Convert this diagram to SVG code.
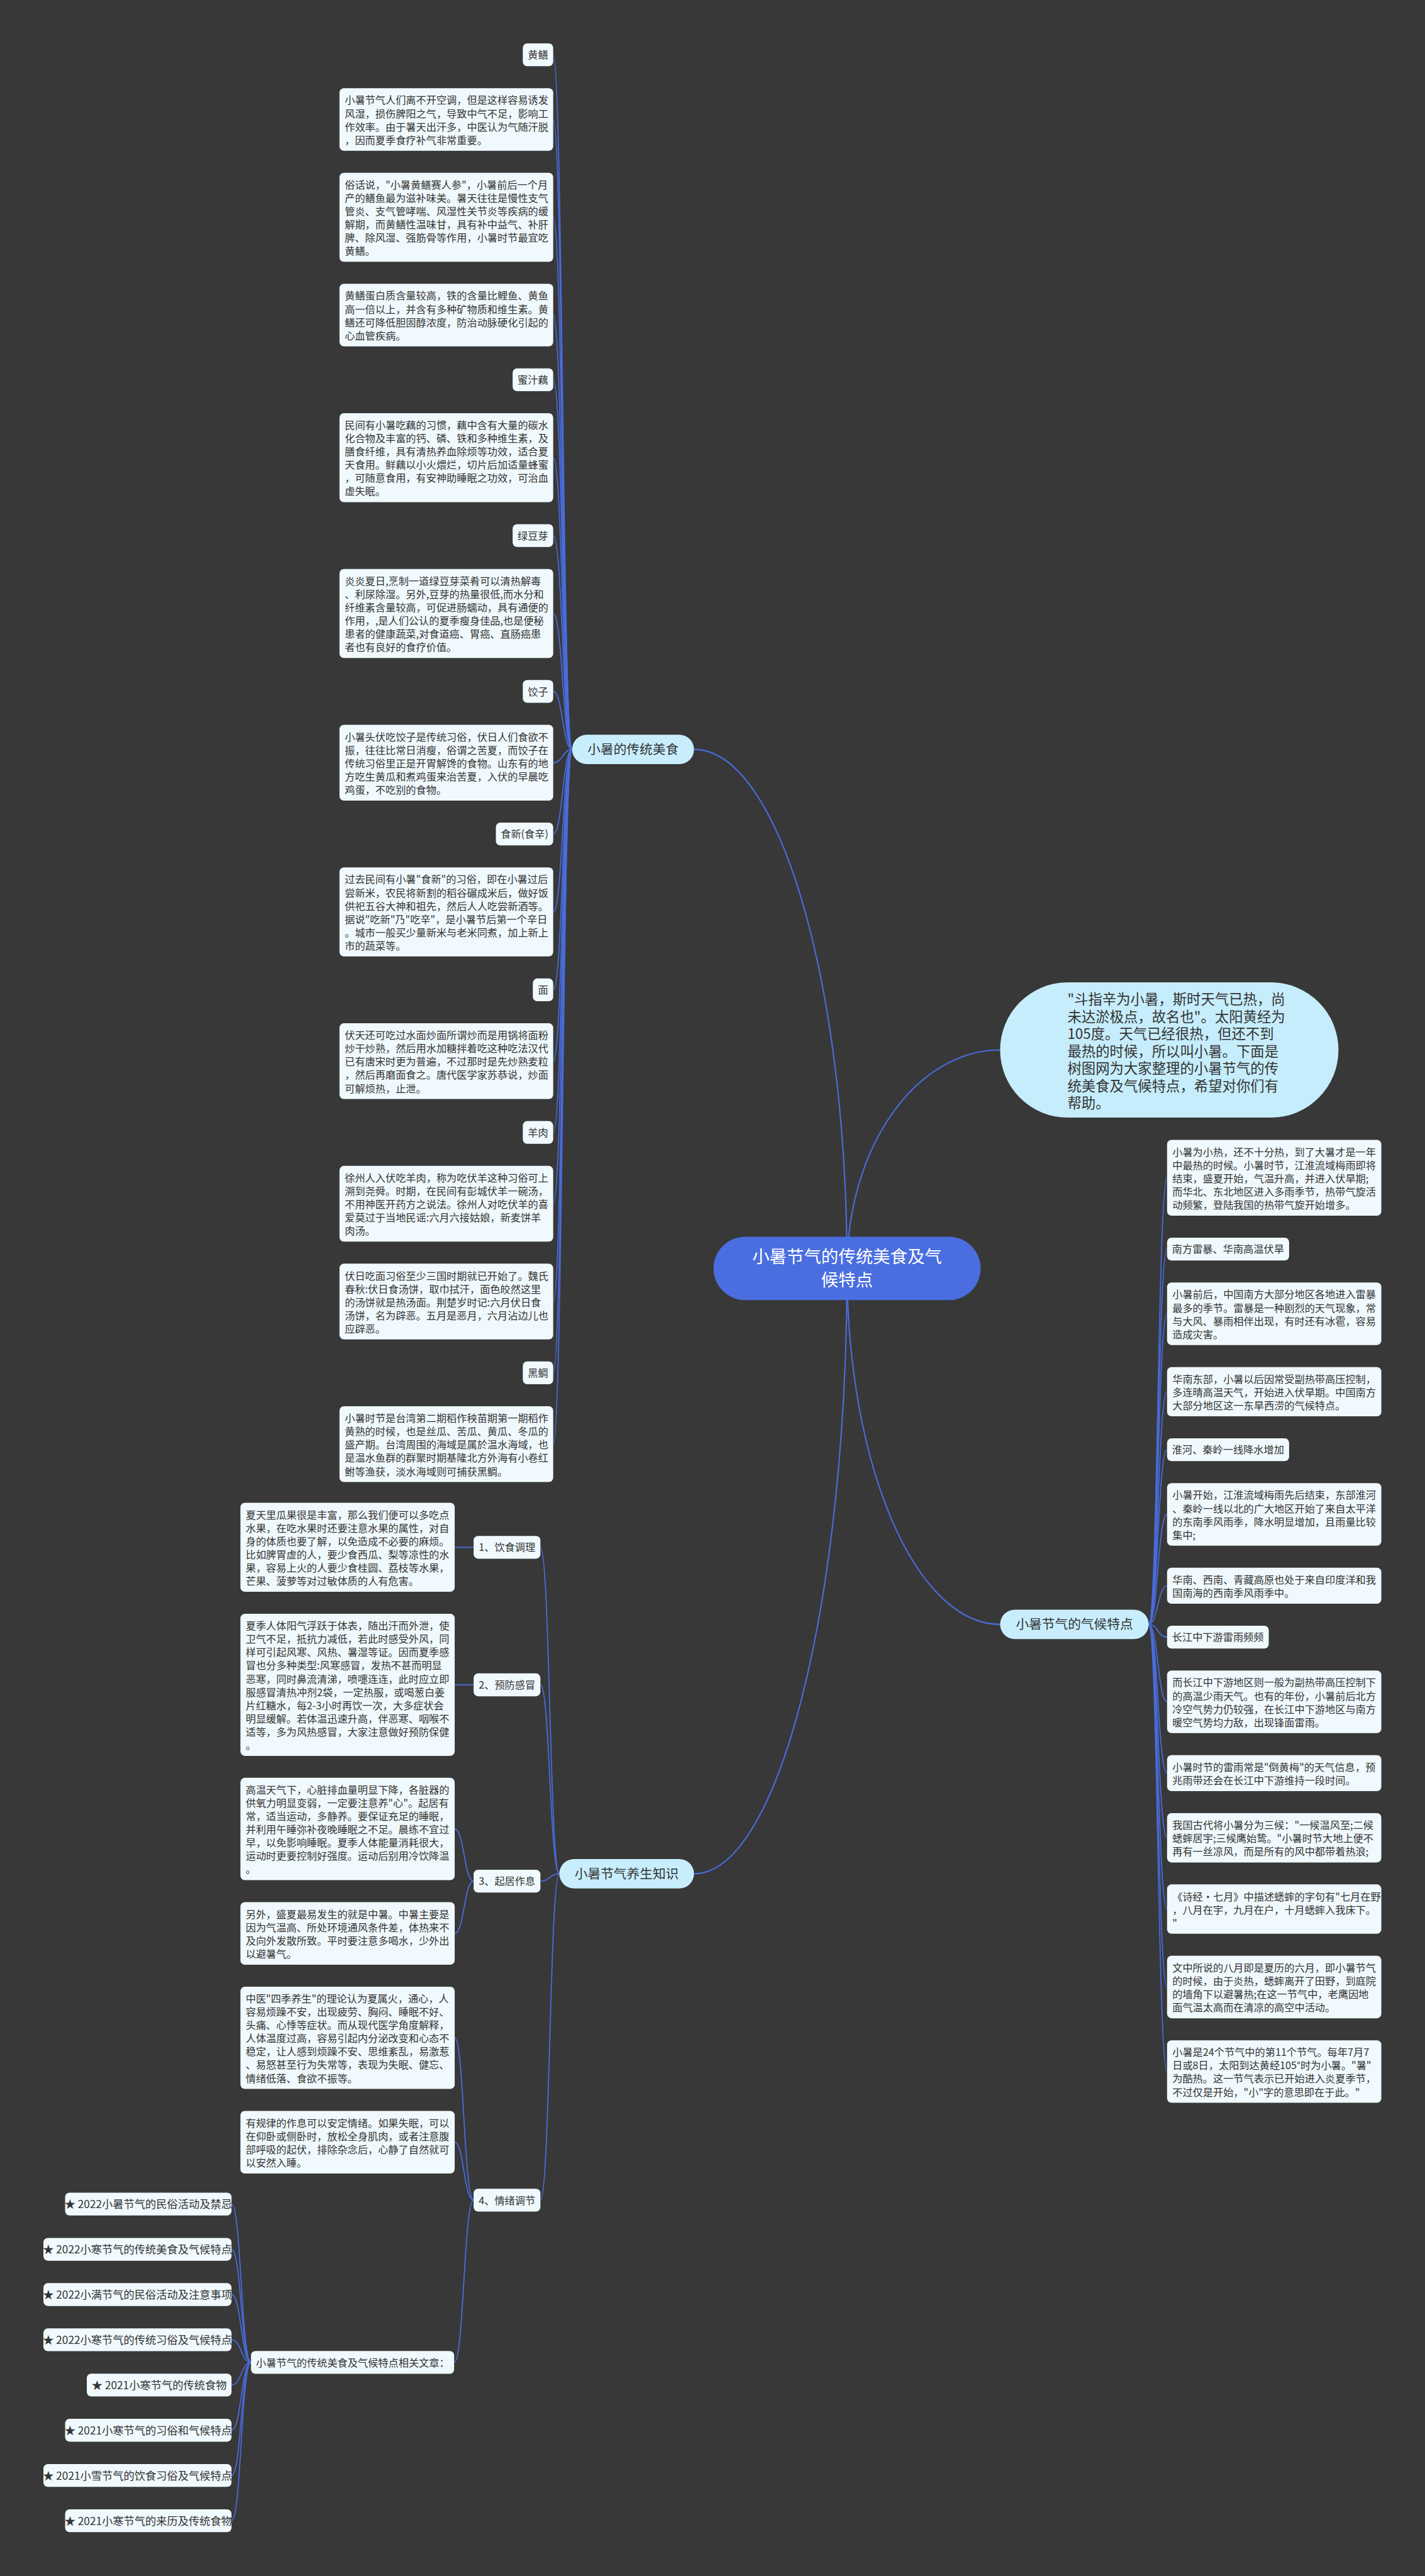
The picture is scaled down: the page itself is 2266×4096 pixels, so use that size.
<svg xmlns="http://www.w3.org/2000/svg" width="2266" height="4096" viewBox="0 0 2266 4096">
<defs>
<style>
text{font-family:"Noto Sans CJK SC","Noto Sans",sans-serif;}
.bx{fill:#f0f9fd;}
.t{font-size:18.3px;fill:#333;}
.lt{font-size:18.3px;fill:#333;text-anchor:middle;}
.st{font-size:19.5px;fill:#333;text-anchor:middle;}
.pill{fill:#c8eefd;}
.pt{font-size:23.4px;fill:#333;text-anchor:middle;}
.ln{fill:none;stroke:#4a6cdc;stroke-width:2;}
.rl{fill:none;stroke:#4a6cdc;stroke-width:2.4;}
</style>
</defs>
<rect x="0" y="0" width="2266" height="4096" fill="#383838"/>
<g transform="scale(0.885)">
<g id="connectors">
<path class="rl" d="M1247 1346.5 C1398.8 1346.5 1522 1764.3 1522 2279"/>
<path class="rl" d="M1247 3366.5 C1398.8 3366.5 1522 2879.3 1522 2279"/>
<path class="rl" d="M1797 1886.5 C1645.2 1886.5 1522 2062.3 1522 2279"/>
<path class="rl" d="M1797 2918.5 C1645.2 2918.5 1522 2632 1522 2279"/>
<path class="ln" d="M1028 1346.5 C1011 1346.5 1011 98.5 994 98.5"/>
<path class="ln" d="M1028 1346.5 C1011 1346.5 1011 214.7 994 214.7"/>
<path class="ln" d="M1028 1346.5 C1011 1346.5 1011 390.4 994 390.4"/>
<path class="ln" d="M1028 1346.5 C1011 1346.5 1011 566.1 994 566.1"/>
<path class="ln" d="M1028 1346.5 C1011 1346.5 1011 682.3 994 682.3"/>
<path class="ln" d="M1028 1346.5 C1011 1346.5 1011 822.3 994 822.3"/>
<path class="ln" d="M1028 1346.5 C1011 1346.5 1011 962.3 994 962.3"/>
<path class="ln" d="M1028 1346.5 C1011 1346.5 1011 1102.3 994 1102.3"/>
<path class="ln" d="M1028 1346.5 C1011 1346.5 1011 1242.3 994 1242.3"/>
<path class="ln" d="M1028 1346.5 C1011 1346.5 1011 1370.4 994 1370.4"/>
<path class="ln" d="M1028 1346.5 C1011 1346.5 1011 1498.5 994 1498.5"/>
<path class="ln" d="M1028 1346.5 C1011 1346.5 1011 1638.5 994 1638.5"/>
<path class="ln" d="M1028 1346.5 C1011 1346.5 1011 1778.5 994 1778.5"/>
<path class="ln" d="M1028 1346.5 C1011 1346.5 1011 1906.6 994 1906.6"/>
<path class="ln" d="M1028 1346.5 C1011 1346.5 1011 2034.7 994 2034.7"/>
<path class="ln" d="M1028 1346.5 C1011 1346.5 1011 2162.8 994 2162.8"/>
<path class="ln" d="M1028 1346.5 C1011 1346.5 1011 2338.5 994 2338.5"/>
<path class="ln" d="M1028 1346.5 C1011 1346.5 1011 2466.6 994 2466.6"/>
<path class="ln" d="M1028 1346.5 C1011 1346.5 1011 2594.7 994 2594.7"/>
<path class="ln" d="M2064 2918.5 C2080.5 2918.5 2080.5 2116.1 2097 2116.1"/>
<path class="ln" d="M2064 2918.5 C2080.5 2918.5 2080.5 2244.2 2097 2244.2"/>
<path class="ln" d="M2064 2918.5 C2080.5 2918.5 2080.5 2360.4 2097 2360.4"/>
<path class="ln" d="M2064 2918.5 C2080.5 2918.5 2080.5 2500.4 2097 2500.4"/>
<path class="ln" d="M2064 2918.5 C2080.5 2918.5 2080.5 2604.7 2097 2604.7"/>
<path class="ln" d="M2064 2918.5 C2080.5 2918.5 2080.5 2720.9 2097 2720.9"/>
<path class="ln" d="M2064 2918.5 C2080.5 2918.5 2080.5 2849 2097 2849"/>
<path class="ln" d="M2064 2918.5 C2080.5 2918.5 2080.5 2941.4 2097 2941.4"/>
<path class="ln" d="M2064 2918.5 C2080.5 2918.5 2080.5 3057.6 2097 3057.6"/>
<path class="ln" d="M2064 2918.5 C2080.5 2918.5 2080.5 3185.7 2097 3185.7"/>
<path class="ln" d="M2064 2918.5 C2080.5 2918.5 2080.5 3301.9 2097 3301.9"/>
<path class="ln" d="M2064 2918.5 C2080.5 2918.5 2080.5 3430 2097 3430"/>
<path class="ln" d="M2064 2918.5 C2080.5 2918.5 2080.5 3570 2097 3570"/>
<path class="ln" d="M2064 2918.5 C2080.5 2918.5 2080.5 3721.9 2097 3721.9"/>
<path class="ln" d="M1005 3366.5 C988 3366.5 988 2780 971 2780"/>
<path class="ln" d="M1005 3366.5 C988 3366.5 988 3027.1 971 3027.1"/>
<path class="ln" d="M1005 3366.5 C988 3366.5 988 3379.9 971 3379.9"/>
<path class="ln" d="M1005 3366.5 C988 3366.5 988 3952.9 971 3952.9"/>
<path class="ln" d="M851 2780 L817 2780"/>
<path class="ln" d="M851 3027.1 L817 3027.1"/>
<path class="ln" d="M851 3379.9 C834 3379.9 834 3286.1 817 3286.1"/>
<path class="ln" d="M851 3379.9 C834 3379.9 834 3473.7 817 3473.7"/>
<path class="ln" d="M851 3952.9 C833.5 3952.9 833.5 3661.3 817 3661.3"/>
<path class="ln" d="M851 3952.9 C833.5 3952.9 833.5 3848.9 817 3848.9"/>
<path class="ln" d="M851 3952.9 C833.5 3952.9 833.5 4244.5 816 4244.5"/>
<path class="ln" d="M451 4244.5 C433.5 4244.5 433.5 3960 416 3960"/>
<path class="ln" d="M451 4244.5 C433.5 4244.5 433.5 4041.3 416 4041.3"/>
<path class="ln" d="M451 4244.5 C433.5 4244.5 433.5 4122.6 416 4122.6"/>
<path class="ln" d="M451 4244.5 C433.5 4244.5 433.5 4203.9 416 4203.9"/>
<path class="ln" d="M451 4244.5 C433.5 4244.5 433.5 4285.1 416 4285.1"/>
<path class="ln" d="M451 4244.5 C433.5 4244.5 433.5 4366.4 416 4366.4"/>
<path class="ln" d="M451 4244.5 C433.5 4244.5 433.5 4447.7 416 4447.7"/>
<path class="ln" d="M451 4244.5 C433.5 4244.5 433.5 4529 416 4529"/>
</g>

<g id="root">
<rect x="1282" y="2222" width="480" height="114" rx="57" fill="#4a6ee0"/>
<text x="1522" y="2269" font-size="31" fill="#fff" text-anchor="middle">小暑节气的传统美食及气<tspan x="1522" dy="42">候特点</tspan></text>
</g>

<g id="branch-food">
<rect class="pill" x="1028" y="1320" width="219" height="53" rx="26.5"/>
<text class="pt" x="1137.5" y="1355">小暑的传统美食</text>
</g>
<g id="branch-health">
<rect class="pill" x="1005" y="3340" width="242" height="53" rx="26.5"/>
<text class="pt" x="1126" y="3375">小暑节气养生知识</text>
</g>
<g id="branch-climate">
<rect class="pill" x="1797" y="2892" width="267" height="53" rx="26.5"/>
<text class="pt" x="1930.5" y="2927">小暑节气的气候特点</text>
</g>
<g id="intro">
<rect x="1797" y="1765" width="608" height="243" rx="121.5" fill="#c6edfb"/>
<text x="1918" y="1805" font-size="25.3" fill="#333"><tspan x="1918">"斗指辛为小暑，斯时天气已热，尚</tspan><tspan x="1918" dy="31">未达淤极点，故名也"。太阳黄经为</tspan><tspan x="1918" dy="31">105度。天气已经很热，但还不到</tspan><tspan x="1918" dy="31">最热的时候，所以叫小暑。下面是</tspan><tspan x="1918" dy="31">树图网为大家整理的小暑节气的传</tspan><tspan x="1918" dy="31">统美食及气候特点，希望对你们有</tspan><tspan x="1918" dy="31">帮助。</tspan></text>
</g>

<g id="food-l1"><rect class="bx" x="939.4" y="78" width="54.6" height="41" rx="8"/><text class="lt" x="966.7" y="105.5">黄鳝</text></g>
<g id="food-t1"><rect class="bx" x="610" y="158.5" width="384" height="112.4" rx="8"/><text class="t" x="619.5" y="187"><tspan x="619.5">小暑节气人们离不开空调，但是这样容易诱发</tspan><tspan x="619.5" dy="23.8">风湿，损伤脾阳之气，导致中气不足，影响工</tspan><tspan x="619.5" dy="23.8">作效率。由于暑天出汗多，中医认为气随汗脱</tspan><tspan x="619.5" dy="23.8">，因而夏季食疗补气非常重要。</tspan></text></g>
<g id="food-t2"><rect class="bx" x="610" y="310.4" width="384" height="160" rx="8"/><text class="t" x="619.5" y="338.9"><tspan x="619.5">俗话说，"小暑黄鳝赛人参"，小暑前后一个月</tspan><tspan x="619.5" dy="23.8">产的鳝鱼最为滋补味美。暑天往往是慢性支气</tspan><tspan x="619.5" dy="23.8">管炎、支气管哮喘、风湿性关节炎等疾病的缓</tspan><tspan x="619.5" dy="23.8">解期，而黄鳝性温味甘，具有补中益气、补肝</tspan><tspan x="619.5" dy="23.8">脾、除风湿、强筋骨等作用，小暑时节最宜吃</tspan><tspan x="619.5" dy="23.8">黄鳝。</tspan></text></g>
<g id="food-t3"><rect class="bx" x="610" y="509.9" width="384" height="112.4" rx="8"/><text class="t" x="619.5" y="538.4"><tspan x="619.5">黄鳝蛋白质含量较高，铁的含量比鲤鱼、黄鱼</tspan><tspan x="619.5" dy="23.8">高一倍以上，并含有多种矿物质和维生素。黄</tspan><tspan x="619.5" dy="23.8">鳝还可降低胆固醇浓度，防治动脉硬化引起的</tspan><tspan x="619.5" dy="23.8">心血管疾病。</tspan></text></g>
<g id="food-l2"><rect class="bx" x="921.1" y="661.8" width="72.9" height="41" rx="8"/><text class="lt" x="957.5" y="689.3">蜜汁藕</text></g>
<g id="food-t4"><rect class="bx" x="610" y="742.3" width="384" height="160" rx="8"/><text class="t" x="619.5" y="770.8"><tspan x="619.5">民间有小暑吃藕的习惯，藕中含有大量的碳水</tspan><tspan x="619.5" dy="23.8">化合物及丰富的钙、磷、铁和多种维生素，及</tspan><tspan x="619.5" dy="23.8">膳食纤维，具有清热养血除烦等功效，适合夏</tspan><tspan x="619.5" dy="23.8">天食用。鲜藕以小火煨烂，切片后加适量蜂蜜</tspan><tspan x="619.5" dy="23.8">，可随意食用，有安神助睡眠之功效，可治血</tspan><tspan x="619.5" dy="23.8">虚失眠。</tspan></text></g>
<g id="food-l3"><rect class="bx" x="921.1" y="941.8" width="72.9" height="41" rx="8"/><text class="lt" x="957.5" y="969.3">绿豆芽</text></g>
<g id="food-t5"><rect class="bx" x="610" y="1022.3" width="384" height="160" rx="8"/><text class="t" x="619.5" y="1050.8"><tspan x="619.5">炎炎夏日,烹制一道绿豆芽菜肴可以清热解毒</tspan><tspan x="619.5" dy="23.8">、利尿除湿。另外,豆芽的热量很低,而水分和</tspan><tspan x="619.5" dy="23.8">纤维素含量较高，可促进肠蠕动，具有通便的</tspan><tspan x="619.5" dy="23.8">作用，,是人们公认的夏季瘦身佳品,也是便秘</tspan><tspan x="619.5" dy="23.8">患者的健康蔬菜,对食道癌、胃癌、直肠癌患</tspan><tspan x="619.5" dy="23.8">者也有良好的食疗价值。</tspan></text></g>
<g id="food-l4"><rect class="bx" x="939.4" y="1221.8" width="54.6" height="41" rx="8"/><text class="lt" x="966.7" y="1249.3">饺子</text></g>
<g id="food-t6"><rect class="bx" x="610" y="1302.3" width="384" height="136.2" rx="8"/><text class="t" x="619.5" y="1330.8"><tspan x="619.5">小暑头伏吃饺子是传统习俗，伏日人们食欲不</tspan><tspan x="619.5" dy="23.8">振，往往比常日消瘦，俗谓之苦夏，而饺子在</tspan><tspan x="619.5" dy="23.8">传统习俗里正是开胃解馋的食物。山东有的地</tspan><tspan x="619.5" dy="23.8">方吃生黄瓜和煮鸡蛋来治苦夏，入伏的早晨吃</tspan><tspan x="619.5" dy="23.8">鸡蛋，不吃别的食物。</tspan></text></g>
<g id="food-l5"><rect class="bx" x="891" y="1478" width="103" height="41" rx="8"/><text class="lt" x="942.5" y="1505.5">食新(食辛)</text></g>
<g id="food-t7"><rect class="bx" x="610" y="1558.5" width="384" height="160" rx="8"/><text class="t" x="619.5" y="1587"><tspan x="619.5">过去民间有小暑"食新"的习俗，即在小暑过后</tspan><tspan x="619.5" dy="23.8">尝新米，农民将新割的稻谷碾成米后，做好饭</tspan><tspan x="619.5" dy="23.8">供祀五谷大神和祖先，然后人人吃尝新酒等。</tspan><tspan x="619.5" dy="23.8">据说"吃新"乃"吃辛"，是小暑节后第一个辛日</tspan><tspan x="619.5" dy="23.8">。城市一般买少量新米与老米同煮，加上新上</tspan><tspan x="619.5" dy="23.8">市的蔬菜等。</tspan></text></g>
<g id="food-l6"><rect class="bx" x="957.4" y="1758" width="36.6" height="41" rx="8"/><text class="lt" x="975.7" y="1785.5">面</text></g>
<g id="food-t8"><rect class="bx" x="610" y="1838.5" width="384" height="136.2" rx="8"/><text class="t" x="619.5" y="1867"><tspan x="619.5">伏天还可吃过水面炒面所谓炒而是用锅将面粉</tspan><tspan x="619.5" dy="23.8">炒干炒熟，然后用水加糖拌着吃这种吃法汉代</tspan><tspan x="619.5" dy="23.8">已有唐宋时更为普遍，不过那时是先炒熟麦粒</tspan><tspan x="619.5" dy="23.8">，然后再磨面食之。唐代医学家苏恭说，炒面</tspan><tspan x="619.5" dy="23.8">可解烦热，止泄。</tspan></text></g>
<g id="food-l7"><rect class="bx" x="939.4" y="2014.2" width="54.6" height="41" rx="8"/><text class="lt" x="966.7" y="2041.7">羊肉</text></g>
<g id="food-t9"><rect class="bx" x="610" y="2094.7" width="384" height="136.2" rx="8"/><text class="t" x="619.5" y="2123.2"><tspan x="619.5">徐州人入伏吃羊肉，称为吃伏羊这种习俗可上</tspan><tspan x="619.5" dy="23.8">溯到尧舜。时期，在民间有彭城伏羊一碗汤，</tspan><tspan x="619.5" dy="23.8">不用神医开药方之说法。徐州人对吃伏羊的喜</tspan><tspan x="619.5" dy="23.8">爱莫过于当地民谣:六月六接姑娘，新麦饼羊</tspan><tspan x="619.5" dy="23.8">肉汤。</tspan></text></g>
<g id="food-t10"><rect class="bx" x="610" y="2270.4" width="384" height="136.2" rx="8"/><text class="t" x="619.5" y="2298.9"><tspan x="619.5">伏日吃面习俗至少三国时期就已开始了。魏氏</tspan><tspan x="619.5" dy="23.8">春秋:伏日食汤饼，取巾拭汗，面色皎然这里</tspan><tspan x="619.5" dy="23.8">的汤饼就是热汤面。荆楚岁时记:六月伏日食</tspan><tspan x="619.5" dy="23.8">汤饼，名为辟恶。五月是恶月，六月沾边儿也</tspan><tspan x="619.5" dy="23.8">应辟恶。</tspan></text></g>
<g id="food-l8"><rect class="bx" x="939.4" y="2446.1" width="54.6" height="41" rx="8"/><text class="lt" x="966.7" y="2473.6">黑鲷</text></g>
<g id="food-t11"><rect class="bx" x="610" y="2526.6" width="384" height="136.2" rx="8"/><text class="t" x="619.5" y="2555.1"><tspan x="619.5">小暑时节是台湾第二期稻作秧苗期第一期稻作</tspan><tspan x="619.5" dy="23.8">黄熟的时候，也是丝瓜、苦瓜、黄瓜、冬瓜的</tspan><tspan x="619.5" dy="23.8">盛产期。台湾周围的海域是属於温水海域，也</tspan><tspan x="619.5" dy="23.8">是温水鱼群的群聚时期基隆北方外海有小卷红</tspan><tspan x="619.5" dy="23.8">鲋等渔获，淡水海域则可捕获黑鲷。</tspan></text></g>

<g id="cl-t1"><rect class="bx" x="2097" y="2048" width="385" height="136.2" rx="8"/><text class="t" x="2106.5" y="2076.5"><tspan x="2106.5">小暑为小热，还不十分热，到了大暑才是一年</tspan><tspan x="2106.5" dy="23.8">中最热的时候。小暑时节，江淮流域梅雨即将</tspan><tspan x="2106.5" dy="23.8">结束，盛夏开始，气温升高，并进入伏旱期;</tspan><tspan x="2106.5" dy="23.8">而华北、东北地区进入多雨季节，热带气旋活</tspan><tspan x="2106.5" dy="23.8">动频繁，登陆我国的热带气旋开始增多。</tspan></text></g>
<g id="cl-l1"><rect class="bx" x="2097" y="2223.7" width="219.3" height="41" rx="8"/><text class="lt" x="2206.6" y="2251.2">南方雷暴、华南高温伏旱</text></g>
<g id="cl-t2"><rect class="bx" x="2097" y="2304.2" width="385" height="112.4" rx="8"/><text class="t" x="2106.5" y="2332.7"><tspan x="2106.5">小暑前后，中国南方大部分地区各地进入雷暴</tspan><tspan x="2106.5" dy="23.8">最多的季节。雷暴是一种剧烈的天气现象，常</tspan><tspan x="2106.5" dy="23.8">与大风、暴雨相伴出现，有时还有冰雹，容易</tspan><tspan x="2106.5" dy="23.8">造成灾害。</tspan></text></g>
<g id="cl-t3"><rect class="bx" x="2097" y="2456.1" width="385" height="88.6" rx="8"/><text class="t" x="2106.5" y="2484.6"><tspan x="2106.5">华南东部，小暑以后因常受副热带高压控制，</tspan><tspan x="2106.5" dy="23.8">多连晴高温天气，开始进入伏旱期。中国南方</tspan><tspan x="2106.5" dy="23.8">大部分地区这一东旱西涝的气候特点。</tspan></text></g>
<g id="cl-l2"><rect class="bx" x="2097" y="2584.2" width="219.3" height="41" rx="8"/><text class="lt" x="2206.6" y="2611.7">淮河、秦岭一线降水增加</text></g>
<g id="cl-t4"><rect class="bx" x="2097" y="2664.7" width="385" height="112.4" rx="8"/><text class="t" x="2106.5" y="2693.2"><tspan x="2106.5">小暑开始，江淮流域梅雨先后结束，东部淮河</tspan><tspan x="2106.5" dy="23.8">、秦岭一线以北的广大地区开始了来自太平洋</tspan><tspan x="2106.5" dy="23.8">的东南季风雨季，降水明显增加，且雨量比较</tspan><tspan x="2106.5" dy="23.8">集中;</tspan></text></g>
<g id="cl-t5"><rect class="bx" x="2097" y="2816.6" width="385" height="64.8" rx="8"/><text class="t" x="2106.5" y="2845.1"><tspan x="2106.5">华南、西南、青藏高原也处于来自印度洋和我</tspan><tspan x="2106.5" dy="23.8">国南海的西南季风雨季中。</tspan></text></g>
<g id="cl-l3"><rect class="bx" x="2097" y="2920.9" width="182.7" height="41" rx="8"/><text class="lt" x="2188.3" y="2948.4">长江中下游雷雨频频</text></g>
<g id="cl-t6"><rect class="bx" x="2097" y="3001.4" width="385" height="112.4" rx="8"/><text class="t" x="2106.5" y="3029.9"><tspan x="2106.5">而长江中下游地区则一般为副热带高压控制下</tspan><tspan x="2106.5" dy="23.8">的高温少雨天气。也有的年份，小暑前后北方</tspan><tspan x="2106.5" dy="23.8">冷空气势力仍较强，在长江中下游地区与南方</tspan><tspan x="2106.5" dy="23.8">暖空气势均力敌，出现锋面雷雨。</tspan></text></g>
<g id="cl-t7"><rect class="bx" x="2097" y="3153.3" width="385" height="64.8" rx="8"/><text class="t" x="2106.5" y="3181.8"><tspan x="2106.5">小暑时节的雷雨常是"倒黄梅"的天气信息，预</tspan><tspan x="2106.5" dy="23.8">兆雨带还会在长江中下游维持一段时间。</tspan></text></g>
<g id="cl-t8"><rect class="bx" x="2097" y="3257.6" width="385" height="88.6" rx="8"/><text class="t" x="2106.5" y="3286.1"><tspan x="2106.5">我国古代将小暑分为三候："一候温风至;二候</tspan><tspan x="2106.5" dy="23.8">蟋蟀居宇;三候鹰始鸷。"小暑时节大地上便不</tspan><tspan x="2106.5" dy="23.8">再有一丝凉风，而是所有的风中都带着热浪;</tspan></text></g>
<g id="cl-t9"><rect class="bx" x="2097" y="3385.7" width="385" height="88.6" rx="8"/><text class="t" x="2106.5" y="3414.2"><tspan x="2106.5">《诗经·七月》中描述蟋蟀的字句有"七月在野</tspan><tspan x="2106.5" dy="23.8">，八月在宇，九月在户，十月蟋蟀入我床下。</tspan><tspan x="2106.5" dy="23.8">"</tspan></text></g>
<g id="cl-t10"><rect class="bx" x="2097" y="3513.8" width="385" height="112.4" rx="8"/><text class="t" x="2106.5" y="3542.3"><tspan x="2106.5">文中所说的八月即是夏历的六月，即小暑节气</tspan><tspan x="2106.5" dy="23.8">的时候，由于炎热，蟋蟀离开了田野，到庭院</tspan><tspan x="2106.5" dy="23.8">的墙角下以避暑热;在这一节气中，老鹰因地</tspan><tspan x="2106.5" dy="23.8">面气温太高而在清凉的高空中活动。</tspan></text></g>
<g id="cl-t11"><rect class="bx" x="2097" y="3665.7" width="385" height="112.4" rx="8"/><text class="t" x="2106.5" y="3694.2"><tspan x="2106.5">小暑是24个节气中的第11个节气。每年7月7</tspan><tspan x="2106.5" dy="23.8">日或8日，太阳到达黄经105°时为小暑。"暑"</tspan><tspan x="2106.5" dy="23.8">为酷热。这一节气表示已开始进入炎夏季节，</tspan><tspan x="2106.5" dy="23.8">不过仅是开始，"小"字的意思即在于此。"</tspan></text></g>

<g id="hl-1"><rect class="bx" x="851" y="2759.5" width="120" height="41" rx="8"/><text class="lt" x="911" y="2787">1、饮食调理</text></g>
<g id="hl-2"><rect class="bx" x="851" y="3006.6" width="120" height="41" rx="8"/><text class="lt" x="911" y="3034.1">2、预防感冒</text></g>
<g id="hl-3"><rect class="bx" x="851" y="3359.4" width="120" height="41" rx="8"/><text class="lt" x="911" y="3386.9">3、起居作息</text></g>
<g id="hl-4"><rect class="bx" x="851" y="3932.4" width="120" height="41" rx="8"/><text class="lt" x="911" y="3959.9">4、情绪调节</text></g>

<g id="h-t1"><rect class="bx" x="432" y="2700" width="385" height="160" rx="8"/><text class="t" x="441.5" y="2728.5"><tspan x="441.5">夏天里瓜果很是丰富，那么我们便可以多吃点</tspan><tspan x="441.5" dy="23.8">水果，在吃水果时还要注意水果的属性，对自</tspan><tspan x="441.5" dy="23.8">身的体质也要了解，以免造成不必要的麻烦。</tspan><tspan x="441.5" dy="23.8">比如脾胃虚的人，要少食西瓜、梨等凉性的水</tspan><tspan x="441.5" dy="23.8">果，容易上火的人要少食桂圆、荔枝等水果，</tspan><tspan x="441.5" dy="23.8">芒果、菠萝等对过敏体质的人有危害。</tspan></text></g>
<g id="h-t2"><rect class="bx" x="432" y="2899.5" width="385" height="255.2" rx="8"/><text class="t" x="441.5" y="2928"><tspan x="441.5">夏季人体阳气浮跃于体表，随出汗而外泄，使</tspan><tspan x="441.5" dy="23.8">卫气不足，抵抗力减低，若此时感受外风，同</tspan><tspan x="441.5" dy="23.8">样可引起风寒、风热、暑湿等证。因而夏季感</tspan><tspan x="441.5" dy="23.8">冒也分多种类型:风寒感冒，发热不甚而明显</tspan><tspan x="441.5" dy="23.8">恶寒，同时鼻流清涕，喷嚏连连，此时应立即</tspan><tspan x="441.5" dy="23.8">服感冒清热冲剂2袋，一定热服，或喝葱白姜</tspan><tspan x="441.5" dy="23.8">片红糖水，每2-3小时再饮一次，大多症状会</tspan><tspan x="441.5" dy="23.8">明显缓解。若体温迅速升高，伴恶寒、咽喉不</tspan><tspan x="441.5" dy="23.8">适等，多为风热感冒，大家注意做好预防保健</tspan><tspan x="441.5" dy="23.8">。</tspan></text></g>
<g id="h-t3"><rect class="bx" x="432" y="3194.2" width="385" height="183.8" rx="8"/><text class="t" x="441.5" y="3222.7"><tspan x="441.5">高温天气下，心脏排血量明显下降，各脏器的</tspan><tspan x="441.5" dy="23.8">供氧力明显变弱，一定要注意养"心"。起居有</tspan><tspan x="441.5" dy="23.8">常，适当运动，多静养。要保证充足的睡眠，</tspan><tspan x="441.5" dy="23.8">并利用午睡弥补夜晚睡眠之不足。晨练不宜过</tspan><tspan x="441.5" dy="23.8">早，以免影响睡眠。夏季人体能量消耗很大，</tspan><tspan x="441.5" dy="23.8">运动时更要控制好强度。运动后别用冷饮降温</tspan><tspan x="441.5" dy="23.8">。</tspan></text></g>
<g id="h-t4"><rect class="bx" x="432" y="3417.5" width="385" height="112.4" rx="8"/><text class="t" x="441.5" y="3446"><tspan x="441.5">另外，盛夏最易发生的就是中暑。中暑主要是</tspan><tspan x="441.5" dy="23.8">因为气温高、所处环境通风条件差，体热来不</tspan><tspan x="441.5" dy="23.8">及向外发散所致。平时要注意多喝水，少外出</tspan><tspan x="441.5" dy="23.8">以避暑气。</tspan></text></g>
<g id="h-t5"><rect class="bx" x="432" y="3569.4" width="385" height="183.8" rx="8"/><text class="t" x="441.5" y="3597.9"><tspan x="441.5">中医"四季养生"的理论认为夏属火，通心，人</tspan><tspan x="441.5" dy="23.8">容易烦躁不安，出现疲劳、胸闷、睡眠不好、</tspan><tspan x="441.5" dy="23.8">头痛、心悸等症状。而从现代医学角度解释，</tspan><tspan x="441.5" dy="23.8">人体温度过高，容易引起内分泌改变和心态不</tspan><tspan x="441.5" dy="23.8">稳定，让人感到烦躁不安、思维紊乱，易激惹</tspan><tspan x="441.5" dy="23.8">、易怒甚至行为失常等，表现为失眠、健忘、</tspan><tspan x="441.5" dy="23.8">情绪低落、食欲不振等。</tspan></text></g>
<g id="h-t6"><rect class="bx" x="432" y="3792.7" width="385" height="112.4" rx="8"/><text class="t" x="441.5" y="3821.2"><tspan x="441.5">有规律的作息可以安定情绪。如果失眠，可以</tspan><tspan x="441.5" dy="23.8">在仰卧或侧卧时，放松全身肌肉，或者注意腹</tspan><tspan x="441.5" dy="23.8">部呼吸的起伏，排除杂念后，心静了自然就可</tspan><tspan x="441.5" dy="23.8">以安然入睡。</tspan></text></g>
<g id="articles"><rect class="bx" x="451" y="4224" width="365" height="41" rx="8"/><text class="t" x="460" y="4251.5">小暑节气的传统美食及气候特点相关文章：</text></g>

<g id="art-1"><rect class="bx" x="117" y="3939.5" width="299" height="41" rx="8"/><text class="st" x="266.5" y="3967.5">★ 2022小暑节气的民俗活动及禁忌</text></g>
<g id="art-2"><rect class="bx" x="78" y="4020.8" width="338" height="41" rx="8"/><text class="st" x="247" y="4048.8">★ 2022小寒节气的传统美食及气候特点</text></g>
<g id="art-3"><rect class="bx" x="78" y="4102.1" width="338" height="41" rx="8"/><text class="st" x="247" y="4130.1">★ 2022小满节气的民俗活动及注意事项</text></g>
<g id="art-4"><rect class="bx" x="78" y="4183.4" width="338" height="41" rx="8"/><text class="st" x="247" y="4211.4">★ 2022小寒节气的传统习俗及气候特点</text></g>
<g id="art-5"><rect class="bx" x="156" y="4264.6" width="260" height="41" rx="8"/><text class="st" x="286" y="4292.6">★ 2021小寒节气的传统食物</text></g>
<g id="art-6"><rect class="bx" x="117" y="4345.9" width="299" height="41" rx="8"/><text class="st" x="266.5" y="4373.9">★ 2021小寒节气的习俗和气候特点</text></g>
<g id="art-7"><rect class="bx" x="78" y="4427.2" width="338" height="41" rx="8"/><text class="st" x="247" y="4455.2">★ 2021小雪节气的饮食习俗及气候特点</text></g>
<g id="art-8"><rect class="bx" x="117" y="4508.5" width="299" height="41" rx="8"/><text class="st" x="266.5" y="4536.5">★ 2021小寒节气的来历及传统食物</text></g>
</g>
</svg>
